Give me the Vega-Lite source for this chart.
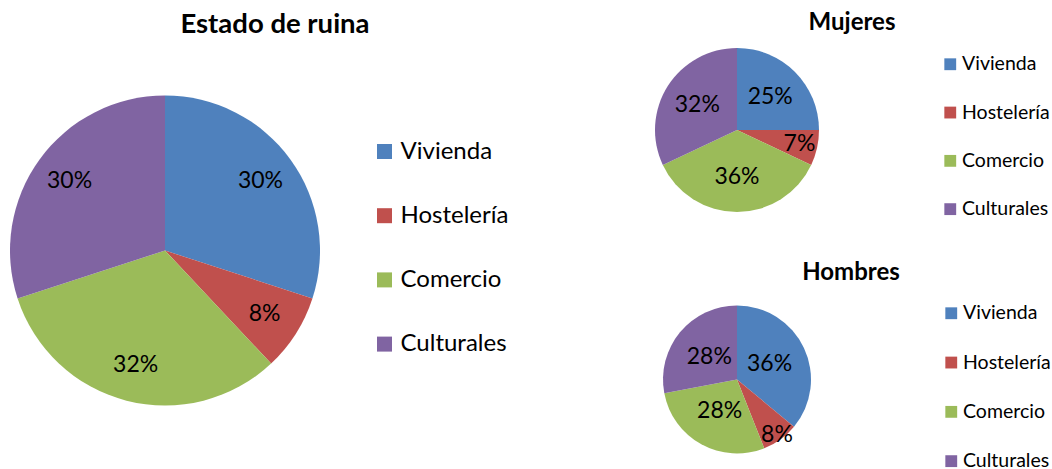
{
  "$schema": "https://vega.github.io/schema/vega-lite/v6.json",
  "padding": {"left": 10, "top": 11, "right": 0, "bottom": 0},
  "background": "white",
  "config": {"font": "Lato", "view": {"stroke": null}},
  "datasets": {
    "ruina": [
      {"categoria": "Vivienda", "n": 1, "pct": 0.30},
      {"categoria": "Hostelería", "n": 2, "pct": 0.08},
      {"categoria": "Comercio", "n": 3, "pct": 0.32},
      {"categoria": "Culturales", "n": 4, "pct": 0.30}
    ],
    "mujeres": [
      {"categoria": "Vivienda", "n": 1, "pct": 0.25},
      {"categoria": "Hostelería", "n": 2, "pct": 0.07},
      {"categoria": "Comercio", "n": 3, "pct": 0.36},
      {"categoria": "Culturales", "n": 4, "pct": 0.32}
    ],
    "hombres": [
      {"categoria": "Vivienda", "n": 1, "pct": 0.36},
      {"categoria": "Hostelería", "n": 2, "pct": 0.08},
      {"categoria": "Comercio", "n": 3, "pct": 0.28},
      {"categoria": "Culturales", "n": 4, "pct": 0.28}
    ]
  },
  "bounds": "flush",
  "spacing": 332,
  "resolve": {"scale": {"color": "independent", "theta": "independent", "radius": "independent"}, "legend": {"color": "independent"}},
  "hconcat": [
    {
      "width": 310,
      "height": 421,
      "data": {"name": "ruina"},
      "title": {"text": "Estado de ruina", "fontSize": 27.5, "fontWeight": "bold", "font": "Lato", "color": "black", "anchor": "middle", "frame": "group", "baseline": "alphabetic", "offset": -20.5, "dx": 110},
      "encoding": {
        "theta": {"field": "pct", "type": "quantitative", "stack": true},
        "order": {"field": "n", "type": "quantitative"},
        "color": {
          "field": "categoria", "type": "nominal",
          "scale": {"domain": ["Vivienda", "Hostelería", "Comercio", "Culturales"], "range": ["#4F81BD", "#C0504D", "#9BBB59", "#8064A2"]},
          "legend": {"title": null, "orient": "right", "offset": -47, "padding": 99.5, "symbolType": "square", "symbolSize": 225, "symbolStrokeWidth": 0, "labelFontSize": 24, "labelFont": "Lato", "labelColor": "black", "labelOffset": 4, "rowPadding": 40.2}
        }
      },
      "layer": [
        {"mark": {"type": "arc", "outerRadius": 155}},
        {"mark": {"type": "text", "radius": 118, "fontSize": 23, "font": "Lato"}, "encoding": {"color": {"value": "black"}, "text": {"field": "pct", "type": "quantitative", "format": ".0%"}}}
      ]
    },
    {
      "bounds": "flush",
      "spacing": 78,
      "resolve": {"scale": {"color": "independent", "theta": "independent", "radius": "independent"}, "legend": {"color": "independent"}},
      "vconcat": [
        {
          "width": 170,
          "height": 180,
          "data": {"name": "mujeres"},
          "title": {"text": "Mujeres", "fontSize": 24, "fontWeight": "bold", "font": "Lato", "color": "black", "anchor": "middle", "frame": "group", "baseline": "alphabetic", "offset": -14, "dx": 115},
          "encoding": {
            "theta": {"field": "pct", "type": "quantitative", "stack": true},
            "order": {"field": "n", "type": "quantitative"},
            "color": {
              "field": "categoria", "type": "nominal",
              "scale": {"domain": ["Vivienda", "Hostelería", "Comercio", "Culturales"], "range": ["#4F81BD", "#C0504D", "#9BBB59", "#8064A2"]},
              "legend": {"title": null, "orient": "right", "offset": 104, "padding": 14.5, "symbolType": "square", "symbolSize": 140, "symbolStrokeWidth": 0, "labelFontSize": 19.5, "labelFont": "Lato", "labelColor": "black", "labelOffset": 2, "rowPadding": 27.3}
            }
          },
          "layer": [
            {"mark": {"type": "arc", "outerRadius": 82}},
            {"mark": {"type": "text", "fontSize": 23, "font": "Lato"}, "encoding": {"color": {"value": "black"}, "radius": {"field": "pct", "type": "quantitative", "scale": {"type": "linear", "zero": false, "domain": [0.07, 0.1, 0.4], "range": [64, 47, 47]}}, "text": {"field": "pct", "type": "quantitative", "format": ".0%"}}}
          ]
        },
        {
          "width": 170,
          "height": 163,
          "data": {"name": "hombres"},
          "title": {"text": "Hombres", "fontSize": 24, "fontWeight": "bold", "font": "Lato", "color": "black", "anchor": "middle", "frame": "group", "baseline": "alphabetic", "offset": -6, "dx": 114},
          "encoding": {
            "theta": {"field": "pct", "type": "quantitative", "stack": true},
            "order": {"field": "n", "type": "quantitative"},
            "color": {
              "field": "categoria", "type": "nominal",
              "scale": {"domain": ["Vivienda", "Hostelería", "Comercio", "Culturales"], "range": ["#4F81BD", "#C0504D", "#9BBB59", "#8064A2"]},
              "legend": {"title": null, "orient": "right", "offset": 113.5, "padding": 5.5, "symbolType": "square", "symbolSize": 140, "symbolStrokeWidth": 0, "labelFontSize": 19.5, "labelFont": "Lato", "labelColor": "black", "labelOffset": 2, "rowPadding": 28.3}
            }
          },
          "layer": [
            {"mark": {"type": "arc", "outerRadius": 74}},
            {"mark": {"type": "text", "fontSize": 23, "font": "Lato"}, "encoding": {"color": {"value": "black"}, "radius": {"field": "pct", "type": "quantitative", "scale": {"type": "linear", "zero": false, "domain": [0.08, 0.1, 0.4], "range": [68, 36, 36]}}, "text": {"field": "pct", "type": "quantitative", "format": ".0%"}}}
          ]
        }
      ]
    }
  ]
}
